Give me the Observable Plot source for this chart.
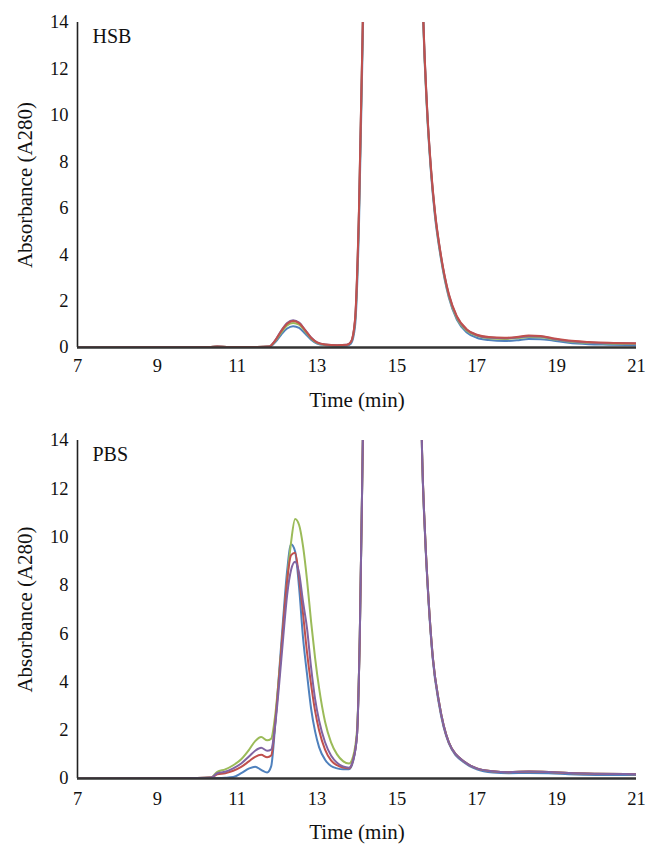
<!DOCTYPE html>
<html>
<head>
<meta charset="utf-8">
<script src="https://cdn.jsdelivr.net/npm/d3@7"></script>
<script src="https://cdn.jsdelivr.net/npm/@observablehq/plot@0.6"></script>
<style>
  html, body { margin: 0; padding: 0; background: #fff; }
  #chart { width: 648px; }
  svg { display: block; }
</style>
</head>
<body>
<div id="chart"></div>
<script>
// ---------- shared ----------
const seriesNames = ["Sample 1", "Sample 2", "Sample 3", "Sample 4"];
const seriesColors = ["#4f81bd", "#9bbb59", "#c0504d", "#8064a2"];
const xTicks = [7, 9, 11, 13, 15, 17, 19, 21];
const yTicks = [0, 2, 4, 6, 8, 10, 12, 14];
const xLabel = "Time (min)";
const yLabel = "Absorbance (A280)";

// ---------- HSB panel ----------
const hsbTitle = "HSB";
const hsbTime =    [7, 9, 10.3, 10.5, 10.8, 11.5, 11.8, 11.95, 12.1, 12.25, 12.4, 12.55, 12.7, 12.85, 13.0, 13.2, 13.5, 13.75, 13.85, 13.95, 14.05, 14.15, 14.3, 15.5, 15.65, 15.75, 15.85, 15.95, 16.1, 16.3, 16.5, 16.75, 17.0, 17.3, 17.7, 18.0, 18.3, 18.6, 18.9, 19.3, 19.8, 20.3, 21];
const hsbSample1 = [0, 0.01, 0.02, 0.03, 0.02, 0.02, 0.03, 0.22, 0.55, 0.82, 0.92, 0.85, 0.6, 0.34, 0.17, 0.1, 0.07, 0.08, 0.17, 0.9, 5.3, 13.8, 30, 30, 14.6, 10.3, 7.6, 5.7, 3.85, 2.15, 1.2, 0.65, 0.42, 0.32, 0.28, 0.31, 0.37, 0.36, 0.3, 0.2, 0.14, 0.12, 0.1];
const hsbSample2 = [0, 0.01, 0.02, 0.04, 0.02, 0.02, 0.04, 0.27, 0.64, 0.95, 1.06, 0.98, 0.7, 0.39, 0.2, 0.12, 0.09, 0.11, 0.23, 1.1, 5.8, 14.4, 30, 30, 14.7, 10.4, 7.7, 5.8, 3.92, 2.22, 1.27, 0.72, 0.5, 0.4, 0.37, 0.4, 0.45, 0.44, 0.36, 0.26, 0.2, 0.17, 0.15];
const hsbSample3 = [0, 0.01, 0.02, 0.04, 0.02, 0.02, 0.04, 0.3, 0.7, 1.02, 1.14, 1.05, 0.75, 0.42, 0.22, 0.13, 0.1, 0.12, 0.25, 1.2, 6.0, 14.5, 30, 30, 14.8, 10.5, 7.8, 5.9, 4.0, 2.3, 1.35, 0.78, 0.55, 0.45, 0.42, 0.45, 0.52, 0.5, 0.4, 0.3, 0.24, 0.2, 0.18];
const hsbSample4 = [0, 0.01, 0.02, 0.04, 0.02, 0.02, 0.04, 0.31, 0.72, 1.05, 1.17, 1.07, 0.76, 0.43, 0.22, 0.13, 0.1, 0.12, 0.24, 1.15, 5.9, 14.5, 30, 30, 14.8, 10.5, 7.75, 5.85, 3.97, 2.27, 1.32, 0.76, 0.53, 0.43, 0.4, 0.43, 0.48, 0.47, 0.38, 0.28, 0.22, 0.19, 0.17];

// ---------- PBS panel ----------
const pbsTitle = "PBS";
const pbsTime =    [7, 9, 10.0, 10.35, 10.5, 10.7, 10.9, 11.1, 11.3, 11.45, 11.6, 11.75, 11.85, 11.95, 12.05, 12.15, 12.25, 12.35, 12.45, 12.55, 12.65, 12.75, 12.85, 12.95, 13.05, 13.2, 13.35, 13.5, 13.65, 13.8, 13.9, 14.0, 14.07, 14.15, 14.3, 15.5, 15.63, 15.7, 15.8, 15.9, 16.05, 16.3, 16.7, 17.0, 17.4, 17.8, 18.3, 18.8, 19.3, 20.0, 21];
const pbsSample1 = [0, 0.01, 0.01, 0.02, 0.02, 0.03, 0.06, 0.22, 0.42, 0.49, 0.36, 0.25, 0.5, 2.2, 4.4, 6.6, 8.6, 9.7, 9.4, 7.9, 5.8, 4.3, 2.9, 1.95, 1.3, 0.78, 0.52, 0.42, 0.38, 0.38, 0.7, 1.8, 5.9, 14.4, 30, 30, 13.4, 10.2, 7.1, 4.9, 3.1, 1.45, 0.64, 0.38, 0.25, 0.22, 0.23, 0.22, 0.18, 0.15, 0.14];
const pbsSample2 = [0, 0.01, 0.02, 0.05, 0.28, 0.38, 0.55, 0.8, 1.2, 1.55, 1.72, 1.58, 1.65, 2.6, 4.3, 6.2, 8.2, 9.8, 10.75, 10.5, 9.6, 8.2, 6.5, 5.0, 3.75, 2.35, 1.5, 1.0, 0.72, 0.62, 0.9, 2.0, 5.9, 14.5, 30, 30, 13.5, 10.3, 7.2, 5.0, 3.2, 1.5, 0.68, 0.42, 0.3, 0.26, 0.29, 0.27, 0.23, 0.2, 0.18];
const pbsSample3 = [0, 0.01, 0.02, 0.04, 0.17, 0.22, 0.32, 0.48, 0.72, 0.9, 0.98, 0.88, 0.95, 2.3, 4.2, 6.3, 8.2, 9.25, 9.35, 8.3, 6.8, 5.2, 3.9, 2.8, 2.0, 1.2, 0.75, 0.55, 0.45, 0.42, 0.75, 1.8, 5.9, 14.5, 30, 30, 13.5, 10.3, 7.2, 5.0, 3.2, 1.5, 0.68, 0.42, 0.3, 0.26, 0.29, 0.27, 0.23, 0.2, 0.18];
const pbsSample4 = [0, 0.01, 0.02, 0.04, 0.22, 0.28, 0.42, 0.62, 0.92, 1.15, 1.27, 1.15, 1.2, 2.2, 3.9, 5.8, 7.6, 8.65, 8.98, 8.5, 7.3, 6.2, 4.6, 3.3, 2.4, 1.5, 0.95, 0.65, 0.5, 0.45, 0.75, 1.8, 5.9, 14.5, 30, 30, 13.5, 10.3, 7.2, 5.0, 3.2, 1.5, 0.68, 0.42, 0.3, 0.26, 0.29, 0.27, 0.23, 0.2, 0.18];

function tidy(time, columns, order) {
  const rows = [];
  for (const i of order) {
    const arr = columns[i];
    time.forEach((t, k) => rows.push({series: seriesNames[i], t, v: arr[k]}));
  }
  return rows;
}

const FONT = "'Liberation Serif', 'Times New Roman', serif";

function panel({title, rows, height, marginTop, marginBottom, tickPad, titleDy}) {
  return Plot.plot({
    width: 648,
    height,
    marginLeft: 77,
    marginRight: 12,
    marginTop,
    marginBottom,
    style: {fontFamily: FONT, fontSize: "18px", color: "#111", background: "#fff"},
    x: {domain: [7, 21]},
    y: {domain: [0, 14]},
    color: {type: "ordinal", domain: seriesNames, range: seriesColors},
    marks: [
      Plot.axisX({ticks: xTicks, tickSize: 0, tickPadding: tickPad, label: null, fontSize: 18.5, fontFamily: FONT, tickFormat: d => String(d)}),
      Plot.axisY({ticks: yTicks, tickSize: 0, tickPadding: 9, label: null, fontSize: 18.5, fontFamily: FONT}),
      Plot.line(rows, {x: "t", y: "v", z: "series", stroke: "series", strokeWidth: 2, curve: "monotone-x", clip: true}),
      Plot.ruleX([7], {stroke: "#222", strokeWidth: 1.6}),
      Plot.ruleY([0], {stroke: "#333", strokeWidth: 2.4}),
      Plot.text([title], {frameAnchor: "top-left", dx: 15, dy: 6, textAnchor: "start", lineAnchor: "top", fontSize: 20, fontFamily: FONT, fill: "#111"}),
      Plot.text([xLabel], {frameAnchor: "bottom", dy: titleDy, lineAnchor: "middle", fontSize: 21, fontFamily: FONT, fill: "#111"}),
      Plot.text([yLabel], {frameAnchor: "left", dx: -52, rotate: -90, lineAnchor: "middle", textAnchor: "middle", fontSize: 21, fontFamily: FONT, fill: "#111"})
    ]
  });
}

const hsbRows = tidy(hsbTime, [hsbSample1, hsbSample2, hsbSample3, hsbSample4], [0, 1, 3, 2]);
const pbsRows = tidy(pbsTime, [pbsSample1, pbsSample2, pbsSample3, pbsSample4], [0, 1, 2, 3]);

const el = document.getElementById("chart");
el.appendChild(panel({title: hsbTitle, rows: hsbRows, height: 415, marginTop: 22, marginBottom: 68, tickPad: 11, titleDy: 53}));
el.appendChild(panel({title: pbsTitle, rows: pbsRows, height: 439, marginTop: 25, marginBottom: 76, tickPad: 13, titleDy: 54}));
</script>
</body>
</html>
